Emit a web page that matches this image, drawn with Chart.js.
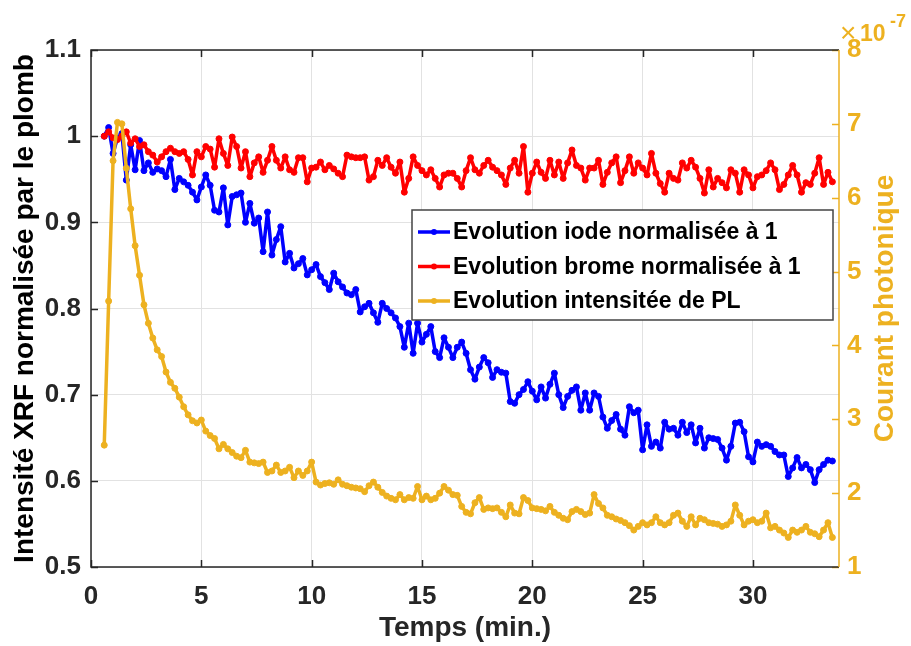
<!DOCTYPE html>
<html>
<head>
<meta charset="utf-8">
<script src="https://cdn.jsdelivr.net/npm/chart.js@4/dist/chart.umd.min.js"></script>
<style>
  html, body { margin: 0; padding: 0; background: #fff; }
  #wrap { width: 911px; height: 646px; }
</style>
</head>
<body>
<div id="wrap"><canvas id="chart"></canvas></div>
<script>
// Time of each scan (min.)
const times = [
  0.6, 0.8, 1.0, 1.2, 1.4, 1.6, 1.8, 2.0, 2.2, 2.4,
  2.6, 2.8, 3.0, 3.2, 3.4, 3.6, 3.8, 4.0, 4.2, 4.4,
  4.6, 4.8, 5.0, 5.2, 5.4, 5.6, 5.8, 6.0, 6.2, 6.4,
  6.6, 6.8, 7.0, 7.2, 7.4, 7.6, 7.8, 8.0, 8.2, 8.4,
  8.6, 8.8, 9.0, 9.2, 9.4, 9.6, 9.8, 10.0, 10.2, 10.4,
  10.6, 10.8, 11.0, 11.2, 11.4, 11.6, 11.8, 12.0, 12.2, 12.4,
  12.6, 12.8, 13.0, 13.2, 13.4, 13.6, 13.8, 14.0, 14.2, 14.4,
  14.6, 14.8, 15.0, 15.2, 15.4, 15.6, 15.8, 16.0, 16.2, 16.4,
  16.6, 16.8, 17.0, 17.2, 17.4, 17.6, 17.8, 18.0, 18.2, 18.4,
  18.6, 18.8, 19.0, 19.2, 19.4, 19.6, 19.8, 20.0, 20.2, 20.4,
  20.6, 20.8, 21.0, 21.2, 21.4, 21.6, 21.8, 22.0, 22.2, 22.4,
  22.6, 22.8, 23.0, 23.2, 23.4, 23.6, 23.8, 24.0, 24.2, 24.4,
  24.6, 24.8, 25.0, 25.2, 25.4, 25.6, 25.8, 26.0, 26.2, 26.4,
  26.6, 26.8, 27.0, 27.2, 27.4, 27.6, 27.8, 28.0, 28.2, 28.4,
  28.6, 28.8, 29.0, 29.2, 29.4, 29.6, 29.8, 30.0, 30.2, 30.4,
  30.6, 30.8, 31.0, 31.2, 31.4, 31.6, 31.8, 32.0, 32.2, 32.4,
  32.6, 32.8, 33.0, 33.2, 33.4, 33.6
];

// Iode XRF, normalised to 1 (left axis)
const iode = [
  1.0, 1.01, 0.98, 0.998, 1.003, 0.949, 0.99, 0.961, 0.995, 0.96,
  0.969, 0.958, 0.962, 0.96, 0.953, 0.973, 0.938, 0.951, 0.947, 0.943,
  0.935, 0.926, 0.941, 0.955, 0.943, 0.914, 0.912, 0.94, 0.897, 0.93,
  0.932, 0.934, 0.9, 0.922, 0.899, 0.905, 0.866, 0.912, 0.862, 0.88,
  0.895, 0.854, 0.864, 0.847, 0.852, 0.858, 0.839, 0.845, 0.851, 0.837,
  0.83, 0.822, 0.841, 0.831, 0.825, 0.818, 0.816, 0.822, 0.796, 0.802,
  0.806, 0.795, 0.784, 0.806, 0.8, 0.795, 0.789, 0.779, 0.755, 0.783,
  0.748, 0.783, 0.761, 0.77, 0.779, 0.75, 0.743, 0.766, 0.755, 0.743,
  0.755, 0.761, 0.748, 0.729, 0.718, 0.732, 0.743, 0.737, 0.72, 0.729,
  0.726, 0.725, 0.692, 0.69, 0.7, 0.706, 0.715, 0.704, 0.694, 0.709,
  0.696, 0.712, 0.725, 0.7, 0.685, 0.698, 0.705, 0.709, 0.682, 0.702,
  0.682, 0.702, 0.698, 0.674, 0.661, 0.67, 0.677, 0.66, 0.653, 0.686,
  0.679, 0.682, 0.636, 0.665, 0.64, 0.645, 0.638, 0.668, 0.66, 0.661,
  0.653, 0.668, 0.656, 0.665, 0.644, 0.661, 0.638, 0.65, 0.649, 0.648,
  0.638, 0.624, 0.64, 0.667, 0.668, 0.657, 0.628, 0.622, 0.645, 0.64,
  0.642, 0.64, 0.634, 0.63, 0.63, 0.605, 0.615, 0.627, 0.615, 0.619,
  0.613, 0.598, 0.613, 0.619, 0.624, 0.623
];

// Brome XRF, normalised to 1 (left axis)
const brome = [
  1.0, 1.005, 0.998, 0.996, 1.0, 1.005, 0.992, 0.997, 0.988, 0.99,
  0.982, 0.978, 0.97, 0.976, 0.982, 0.986, 0.982, 0.98, 0.982, 0.973,
  0.955, 0.982, 0.976, 0.988, 0.985, 0.964, 0.997, 0.98, 0.966, 0.999,
  0.988, 0.963, 0.982, 0.953, 0.969, 0.976, 0.958, 0.972, 0.988, 0.972,
  0.963, 0.976, 0.961, 0.958, 0.975, 0.975, 0.947, 0.963, 0.964, 0.97,
  0.961, 0.966, 0.962, 0.957, 0.953, 0.978, 0.976, 0.975, 0.975, 0.976,
  0.949, 0.953, 0.972, 0.966, 0.975, 0.964, 0.957, 0.97, 0.935, 0.951,
  0.976, 0.966, 0.96, 0.955, 0.961, 0.951, 0.941, 0.955, 0.957, 0.957,
  0.951, 0.941, 0.96, 0.975, 0.961, 0.957, 0.966, 0.972, 0.964, 0.96,
  0.955, 0.944, 0.963, 0.972, 0.957, 0.988, 0.935, 0.957, 0.97, 0.958,
  0.951, 0.972, 0.955, 0.97, 0.951, 0.969, 0.984, 0.966, 0.963, 0.949,
  0.963, 0.963, 0.972, 0.944, 0.958, 0.969, 0.976, 0.946, 0.96, 0.976,
  0.957, 0.969, 0.963, 0.955, 0.98, 0.957, 0.945, 0.935, 0.957, 0.951,
  0.949, 0.969, 0.963, 0.972, 0.964, 0.951, 0.934, 0.961, 0.941, 0.951,
  0.946, 0.94, 0.961, 0.957, 0.935, 0.961, 0.955, 0.94, 0.953, 0.955,
  0.96, 0.969, 0.961, 0.938, 0.944, 0.955, 0.966, 0.955, 0.935, 0.946,
  0.944, 0.957, 0.975, 0.944, 0.958, 0.947
];

// Photocurrent (x 1e-7, right axis)
const courant = [
  2.65, 4.6, 6.5, 7.02, 7.0, 6.4, 5.85, 5.35, 4.95, 4.55,
  4.3, 4.1, 3.94, 3.85, 3.64, 3.5, 3.42, 3.3, 3.17, 3.06,
  2.98, 2.95, 2.99, 2.84, 2.78, 2.74, 2.6, 2.66, 2.6, 2.55,
  2.5, 2.48, 2.58, 2.42, 2.41, 2.4, 2.42, 2.28, 2.3, 2.38,
  2.28, 2.3, 2.35, 2.21, 2.3, 2.24, 2.3, 2.42, 2.15, 2.11,
  2.13, 2.14, 2.12, 2.18, 2.12, 2.1, 2.08, 2.07, 2.06, 2.02,
  2.1, 2.15, 2.08, 2.01, 1.96, 1.93, 1.91, 1.98, 1.91, 1.94,
  1.93, 2.09, 1.91, 1.96, 1.91, 1.93, 2.0, 2.09, 2.04, 1.98,
  1.97, 1.82, 1.74, 1.72, 1.87, 1.94, 1.78, 1.8, 1.79, 1.8,
  1.74, 1.68, 1.84, 1.73, 1.72, 1.94, 1.9, 1.8, 1.79, 1.78,
  1.76, 1.82, 1.74, 1.7, 1.66, 1.64, 1.75, 1.78, 1.75, 1.71,
  1.73, 1.98, 1.86, 1.8, 1.7, 1.68, 1.65, 1.63, 1.6, 1.56,
  1.5, 1.55, 1.6, 1.57, 1.6, 1.68, 1.6, 1.57, 1.6, 1.7,
  1.73, 1.62, 1.55, 1.68, 1.57, 1.66, 1.64, 1.6, 1.59, 1.58,
  1.55, 1.57, 1.62, 1.84, 1.7, 1.57, 1.62, 1.64, 1.6, 1.62,
  1.73, 1.53, 1.55, 1.5, 1.46, 1.4, 1.5, 1.47, 1.5, 1.55,
  1.47, 1.45, 1.41, 1.5, 1.6, 1.4
];

const labelsLegend = [
  "Evolution iode normalisée à 1",
  "Evolution brome normalisée à 1",
  "Evolution intensitée de PL"
];

const xTicks = [0, 5, 10, 15, 20, 25, 30];
const leftTicks = [0.5, 0.6, 0.7, 0.8, 0.9, 1.0, 1.1];
const rightTicks = [1, 2, 3, 4, 5, 6, 7, 8];

const FONT = "'Liberation Sans', Arial, sans-serif";
const AXIS = "#262626";
const BLUE = "#0000ff";
const RED = "#ff0000";
const GOLD = "#edb120";

function pts(ys) {
  return ys.map((y, i) => ({ x: times[i], y: y }));
}

function series(label, ys, color, axis, order) {
  return {
    label: label,
    data: pts(ys),
    yAxisID: axis,
    borderColor: color,
    backgroundColor: color,
    borderWidth: 3.5,
    borderJoinStyle: "round",
    borderCapStyle: "round",
    pointRadius: 3,
    pointBorderWidth: 1,
    pointBorderColor: color,
    pointBackgroundColor: color,
    tension: 0,
    order: order
  };
}

// frame, inward ticks, right title, exponent and legend (MATLAB look)
const decor = {
  id: "decor",
  afterDraw(chart) {
    const ctx = chart.ctx;
    const a = chart.chartArea;
    const sx = chart.scales.x, sy = chart.scales.y, sy2 = chart.scales.y2;
    const tl = 7;
    ctx.save();
    ctx.lineWidth = 1.5;

    // tick marks
    ctx.strokeStyle = AXIS;
    ctx.beginPath();
    xTicks.forEach(v => {
      const px = Math.round(sx.getPixelForValue(v)) + 0.5;
      ctx.moveTo(px, a.bottom); ctx.lineTo(px, a.bottom - tl);
      ctx.moveTo(px, a.top); ctx.lineTo(px, a.top + tl);
    });
    leftTicks.forEach(v => {
      const py = Math.round(sy.getPixelForValue(v)) + 0.5;
      ctx.moveTo(a.left, py); ctx.lineTo(a.left + tl, py);
    });
    ctx.stroke();
    ctx.strokeStyle = GOLD;
    ctx.beginPath();
    rightTicks.forEach(v => {
      const py = Math.round(sy2.getPixelForValue(v)) + 0.5;
      ctx.moveTo(a.right, py); ctx.lineTo(a.right - tl, py);
    });
    ctx.stroke();

    // axes box
    ctx.strokeStyle = AXIS;
    ctx.beginPath();
    ctx.moveTo(a.right, a.top); ctx.lineTo(a.left, a.top);
    ctx.lineTo(a.left, a.bottom); ctx.lineTo(a.right, a.bottom);
    ctx.stroke();
    ctx.strokeStyle = GOLD;
    ctx.beginPath();
    ctx.moveTo(a.right, a.top); ctx.lineTo(a.right, a.bottom);
    ctx.stroke();

    // right title, read bottom to top
    ctx.fillStyle = GOLD;
    ctx.font = "bold 28px " + FONT;
    ctx.textAlign = "center";
    ctx.textBaseline = "middle";
    ctx.translate(885, (a.top + a.bottom) / 2);
    ctx.rotate(-Math.PI / 2);
    ctx.fillText("Courant photonique", 0, 0);
    ctx.setTransform(1, 0, 0, 1, 0, 0);

    // exponent x10^-7
    ctx.textAlign = "left";
    ctx.textBaseline = "alphabetic";
    ctx.font = "28px " + FONT;
    ctx.fillText("×", 840, 42);
    ctx.font = "bold 23px " + FONT;
    ctx.fillText("10", 860, 41);
    ctx.font = "bold 18px " + FONT;
    ctx.fillText("-7", 890, 27);

    // legend
    const lx = 412, ly = 210, lw = 421, lh = 110;
    ctx.fillStyle = "#fff";
    ctx.fillRect(lx, ly, lw, lh);
    ctx.strokeStyle = "#444";
    ctx.lineWidth = 1.5;
    ctx.strokeRect(lx, ly, lw, lh);
    const cols = [BLUE, RED, GOLD];
    ctx.font = "bold 23px " + FONT;
    ctx.textBaseline = "middle";
    labelsLegend.forEach((t, i) => {
      const y = 232 + i * 34.5;
      ctx.strokeStyle = cols[i];
      ctx.lineWidth = 3.5;
      ctx.beginPath();
      ctx.moveTo(418, y); ctx.lineTo(450, y);
      ctx.stroke();
      ctx.fillStyle = cols[i];
      ctx.beginPath();
      ctx.arc(434, y, 3, 0, Math.PI * 2);
      ctx.fill();
      ctx.fillStyle = "#000";
      ctx.fillText(t, 453, y + 1);
    });
    ctx.restore();
  }
};

new Chart(document.getElementById("chart"), {
  type: "line",
  data: {
    datasets: [
      series(labelsLegend[2], courant, GOLD, "y2", 0),
      series(labelsLegend[1], brome, RED, "y", 1),
      series(labelsLegend[0], iode, BLUE, "y", 2)
    ]
  },
  options: {
    responsive: true,
    maintainAspectRatio: false,
    animation: false,
    layout: { padding: { top: 50, left: 0, right: 0, bottom: 0 } },
    plugins: {
      legend: { display: false },
      tooltip: { enabled: false }
    },
    scales: {
      x: {
        type: "linear",
        position: "bottom",
        min: 0,
        max: 33.9,
        afterBuildTicks: s => { s.ticks = xTicks.map(v => ({ value: v })); },
        afterFit: s => { s.height = 79; },
        grid: { color: "#e2e2e2", lineWidth: 1, drawTicks: false },
        border: { display: false },
        ticks: {
          color: AXIS, padding: 14, maxRotation: 0,
          font: { family: FONT, size: 26, weight: "bold" }
        },
        title: {
          display: true, text: "Temps (min.)", color: AXIS,
          font: { family: FONT, size: 28, weight: "bold", lineHeight: 1 },
          padding: { top: 0, bottom: 4 }
        }
      },
      y: {
        type: "linear",
        position: "left",
        min: 0.5,
        max: 1.1,
        afterBuildTicks: s => { s.ticks = leftTicks.map(v => ({ value: v })); },
        afterFit: s => { s.width = 91; },
        grid: { color: "#e2e2e2", lineWidth: 1, drawTicks: false },
        border: { display: false },
        ticks: {
          color: AXIS, padding: 10,
          font: { family: FONT, size: 26, weight: "bold" },
          callback: v => String(+v.toFixed(2))
        },
        title: {
          display: true, text: "Intensité XRF normalisée par le plomb", color: "#000",
          font: { family: FONT, size: 28, weight: "bold", lineHeight: 1 },
          padding: { top: 11, bottom: 0 }
        }
      },
      y2: {
        type: "linear",
        position: "right",
        min: 1,
        max: 8,
        afterBuildTicks: s => { s.ticks = rightTicks.map(v => ({ value: v })); },
        afterFit: s => { s.width = 72; },
        grid: { drawOnChartArea: false, drawTicks: false },
        border: { display: false },
        ticks: {
          color: GOLD, padding: 8,
          font: { family: FONT, size: 26, weight: "bold" },
          callback: v => String(v)
        }
      }
    }
  },
  plugins: [decor]
});
</script>
</body>
</html>
